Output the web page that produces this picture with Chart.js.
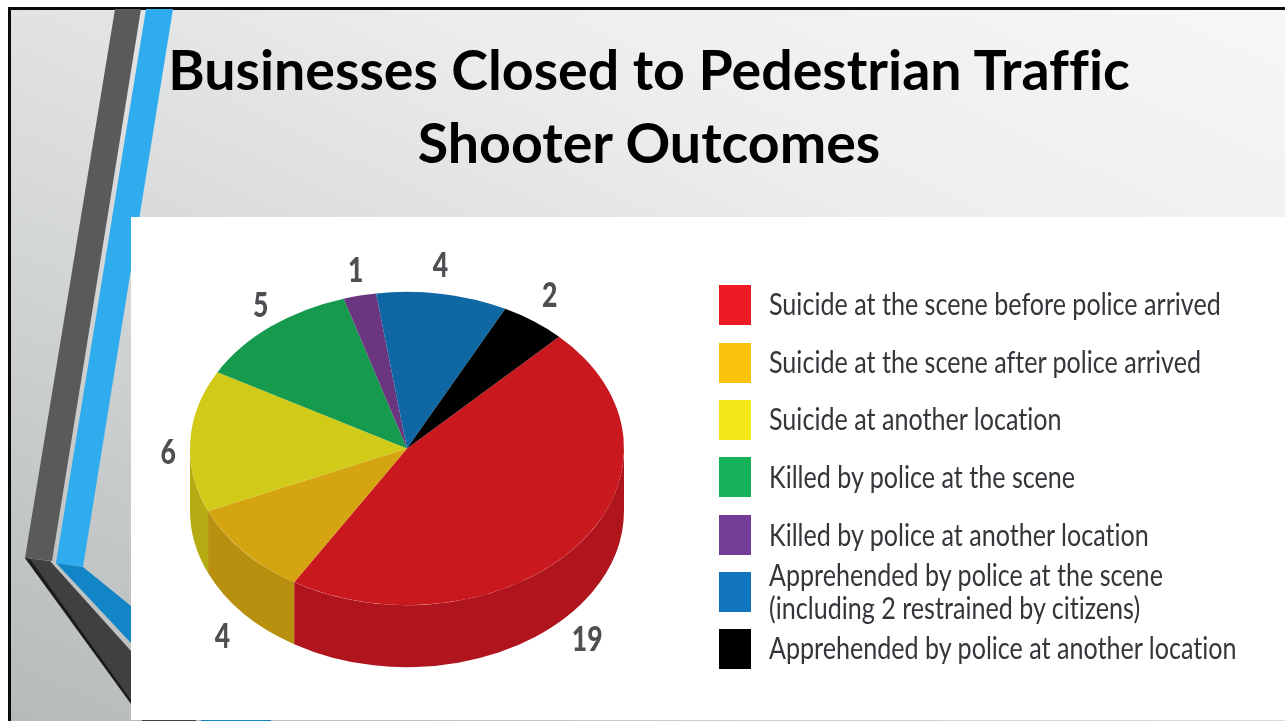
<!DOCTYPE html>
<html>
<head>
<meta charset="utf-8">
<script src="https://cdn.jsdelivr.net/npm/chart.js@4"></script>
<style>
html,body{margin:0;padding:0;background:#fff;}
#page{position:relative;width:1285px;height:721px;overflow:hidden;background:#fff;}
#slide{position:absolute;left:8px;top:7px;width:1290px;height:720px;border:3px solid #0a0a0a;box-sizing:border-box;
 background:linear-gradient(205deg,#f6f7f7 0%,#eceeee 30%,#d9dbdc 55%,#b6babb 100%);}
svg{position:absolute;left:0;top:0;}
#white{position:absolute;left:131px;top:217px;width:1154px;height:503px;background:#fff;}
#chart{position:absolute;left:0;top:0;}
.title{position:absolute;left:0;width:1298px;text-align:center;font:700 55.5px Lato,sans-serif;color:#000;white-space:nowrap;line-height:73px;font-variant-ligatures:none;}
.sw{position:absolute;left:719px;width:32px;height:40px;}
.lg{position:absolute;left:769px;font:400 30px Lato,sans-serif;color:#33363a;white-space:nowrap;transform-origin:0 50%;line-height:34px;font-variant-ligatures:none;}
</style>
</head>
<body>
<div id="page">
  <div id="slide"></div>
  <svg width="1285" height="721">
    <polygon points="115,9 141,9 52,561 25,558" fill="#5a5a5a"/>
    <polygon points="146,9 173,9 83,567 56,563" fill="#2faced"/>
    <polygon points="56,563 83,567 131,606 131,643" fill="#1185c6"/>
    <polygon points="25,558 50,561 131,651 131,703" fill="#404040"/>
    <polygon points="25,558 30,559 131,700 131,704" fill="#1c1c1c"/>
    <rect x="142" y="719" width="54" height="2" fill="#404040"/>
    <rect x="201" y="719" width="70" height="2" fill="#1185c6"/>
  </svg>
  <div id="white"></div>
  <canvas id="chart" width="1285" height="721"></canvas>
  <div class="title" style="top:32px">Businesses Closed to Pedestrian Traffic</div>
  <div class="title" style="top:105px">Shooter Outcomes</div>
  <div id="legend"></div>
</div>
<script>
const categories = [
  "Suicide at the scene before police arrived",
  "Suicide at the scene after police arrived",
  "Suicide at another location",
  "Killed by police at the scene",
  "Killed by police at another location",
  "Apprehended by police at the scene (including 2 restrained by citizens)",
  "Apprehended by police at another location"
];
const values = [19, 4, 6, 5, 1, 4, 2];
const topColors = ["#c9191f", "#d4a510", "#d2ca18", "#159a4e", "#6b3680", "#0f68a4", "#000000"];
const sideColors = ["#b0141c", "#b88f0e", "#b5ac13", "#0f7a3c", "#552a66", "#0b5080", "#000000"];
const legendColors = ["#ed1c24", "#f9c20f", "#f5e81a", "#15b158", "#743c96", "#1075bd", "#000000"];
const legendLines = [
  ["Suicide at the scene before police arrived"],
  ["Suicide at the scene after police arrived"],
  ["Suicide at another location"],
  ["Killed by police at the scene"],
  ["Killed by police at another location"],
  ["Apprehended by police at the scene", "(including 2 restrained by citizens)"],
  ["Apprehended by police at another location"]
];

// layout constants
const SQUASH = 0.722, DEPTH = 62, RADIUS = 217;
const labelNudge = [[9,33],[-21,24],[-22,12],[-10,-21],[-4,-25],[-2,-28],[16,-25]];

const pie3d = {
  id: 'pie3d',
  beforeDatasetsDraw(chart) {
    const ctx = chart.ctx, arcs = chart.getDatasetMeta(0).data;
    arcs.forEach((arc, i) => {
      const p = arc.getProps(['x','y','startAngle','endAngle','outerRadius'], true);
      const TAU = Math.PI * 2;
      let a0 = p.startAngle, a1 = p.endAngle;
      while (a0 < 0) { a0 += TAU; a1 += TAU; }
      [[0, Math.PI], [TAU, TAU + Math.PI]].forEach(([lo, hi]) => {
        const s = Math.max(a0, lo), e = Math.min(a1, hi);
        if (e <= s) return;
        const rx = p.outerRadius, ry = rx * SQUASH;
        ctx.save();
        ctx.beginPath();
        ctx.ellipse(p.x, p.y, rx, ry, 0, s, e, false);
        ctx.ellipse(p.x, p.y + DEPTH, rx, ry, 0, e, s, true);
        ctx.closePath();
        ctx.fillStyle = sideColors[i];
        ctx.fill();
        ctx.restore();
      });
    });
    const a = arcs[0];
    ctx.save();
    ctx.translate(a.x, a.y);
    ctx.scale(1, SQUASH);
    ctx.translate(-a.x, -a.y);
  },
  afterDatasetsDraw(chart) {
    const ctx = chart.ctx, arcs = chart.getDatasetMeta(0).data;
    ctx.restore();
    ctx.save();
    ctx.font = '900 34px Lato, sans-serif';
    ctx.fillStyle = '#4d4f53';
    ctx.textAlign = 'center';
    ctx.textBaseline = 'middle';
    arcs.forEach((arc, i) => {
      const p = arc.getProps(['x','y','startAngle','endAngle','outerRadius'], true);
      const m = (p.startAngle + p.endAngle) / 2;
      const sy = Math.sin(m);
      const x = p.x + p.outerRadius * Math.cos(m) + labelNudge[i][0];
      const y = p.y + p.outerRadius * SQUASH * sy + (sy > 0 ? DEPTH : 0) + labelNudge[i][1];
      ctx.save();
      ctx.translate(x, y);
      ctx.scale(0.78, 1);
      ctx.fillText(String(values[i]), 0, 0);
      ctx.restore();
    });
    ctx.restore();
  }
};

new Chart(document.getElementById('chart'), {
  type: 'pie',
  data: {
    labels: categories,
    datasets: [{ data: values, backgroundColor: topColors, borderWidth: 0, clip: false, radius: RADIUS }]
  },
  options: {
    responsive: false,
    animation: false,
    rotation: 44.5,
    layout: { padding: { left: 0, right: 471, top: 176, bottom: 0 } },
    plugins: { legend: { display: false }, tooltip: { enabled: false }, title: { display: false } },
    events: []
  },
  plugins: [pie3d]
});

// HTML legend
const swatchTops = [285, 343, 400, 457, 515, 572, 629];
const lineCentres = [[303],[361],[418],[476],[534],[574,607],[647]];
const legend = document.getElementById('legend');
legendColors.forEach((c, i) => {
  const sw = document.createElement('div');
  sw.className = 'sw';
  sw.style.background = c;
  sw.style.top = swatchTops[i] + 'px';
  legend.appendChild(sw);
  legendLines[i].forEach((t, j) => {
    const d = document.createElement('div');
    d.className = 'lg';
    d.textContent = t;
    d.style.top = (lineCentres[i][j] - 17) + 'px';
    d.style.transform = 'scaleX(0.837)';
    legend.appendChild(d);
  });
});
</script>
</body>
</html>
